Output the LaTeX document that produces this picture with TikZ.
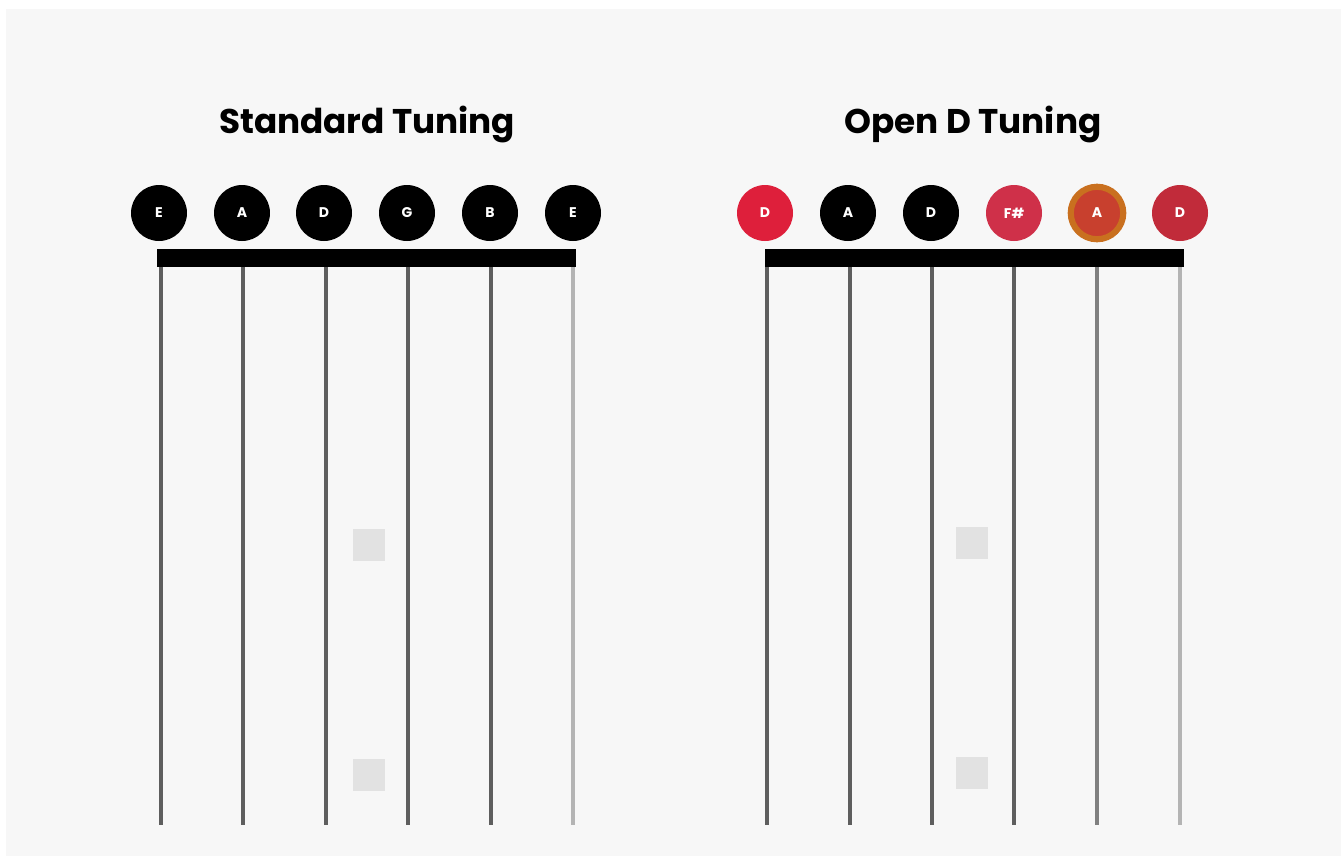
\documentclass[tikz,border=0pt]{standalone}
\usepackage{fontspec}
\setmainfont{Poppins}
\definecolor{paper}{HTML}{F7F7F7}
\definecolor{strgray}{HTML}{5E5E5E}
\definecolor{lightstr}{HTML}{B4B4B4}
\definecolor{inlaygray}{HTML}{E2E2E2}
\definecolor{dred}{HTML}{DE1F3B}
\definecolor{fred}{HTML}{CF3049}
\definecolor{ared}{HTML}{C8402E}
\definecolor{aorange}{HTML}{C9701F}
\definecolor{ered}{HTML}{C12B3A}

\begin{document}
\begin{tikzpicture}[x=0.02cm,y=-0.02cm]
	\tikzstyle{note}=[circle,fill=black,minimum size=1.12cm,inner sep=0pt,text=white,font=\bfseries\fontsize{8}{8}\selectfont];
	\tikzstyle{nutbar}=[fill=black];
	\tikzstyle{gtstring}=[draw=strgray,line width=2.1pt];
	\tikzstyle{inlay}=[fill=inlaygray,minimum size=0.64cm,inner sep=0pt];
	\tikzstyle{heading}=[font=\bfseries\fontsize{19.5}{19.5}\selectfont];
	%% page
	\useasboundingbox (0,0) rectangle (1341,856);
	\fill[white] (0,0) rectangle (1341,856);
	\fill[paper] (6,9) rectangle (1341,856);
	%% titles
	\node[heading] (stdtitle) at (367,124) {Standard Tuning};
	\node[heading] (opentitle) at (973,124) {Open D Tuning};
	%% standard tuning
	\fill[nutbar] (157,249) rectangle (576,267);
	\draw[gtstring] (161,267) -- (161,825);
	\draw[gtstring] (243,267) -- (243,825);
	\draw[gtstring] (326,267) -- (326,825);
	\draw[gtstring] (408,267) -- (408,825);
	\draw[gtstring] (491,267) -- (491,825);
	\draw[gtstring,draw=lightstr] (573,267) -- (573,825);
	\node[inlay] (stdinlay1) at (369,545) {};
	\node[inlay] (stdinlay2) at (369,775) {};
	\node[note] (stdE) at (159,213) {E};
	\node[note] (stdA) at (242,213) {A};
	\node[note] (stdD) at (324,213) {D};
	\node[note] (stdG) at (407,213) {G};
	\node[note] (stdB) at (490,213) {B};
	\node[note] (stde) at (573,213) {E};
	%% open d tuning
	\fill[nutbar] (765,249) rectangle (1184,267);
	\draw[gtstring] (767,267) -- (767,825);
	\draw[gtstring] (850,267) -- (850,825);
	\draw[gtstring] (932,267) -- (932,825);
	\draw[gtstring] (1014,267) -- (1014,825);
	\draw[gtstring,draw=gray] (1097,267) -- (1097,825);
	\draw[gtstring,draw=lightstr] (1180,267) -- (1180,825);
	\node[inlay] (openinlay1) at (972,543) {};
	\node[inlay] (openinlay2) at (972,773) {};
	\node[note,fill=dred] (openD) at (765,213) {D};
	\node[note] (openA) at (848,213) {A};
	\node[note] (opend) at (931,213) {D};
	\node[note,fill=fred] (openF) at (1014,213) {F\#};
	\node[note,fill=ared,draw=aorange,line width=3.5pt,minimum size=1.05cm] (opena) at (1097,213) {A};
	\node[note,fill=ered] (opendd) at (1180,213) {D};
\end{tikzpicture}
\end{document}
